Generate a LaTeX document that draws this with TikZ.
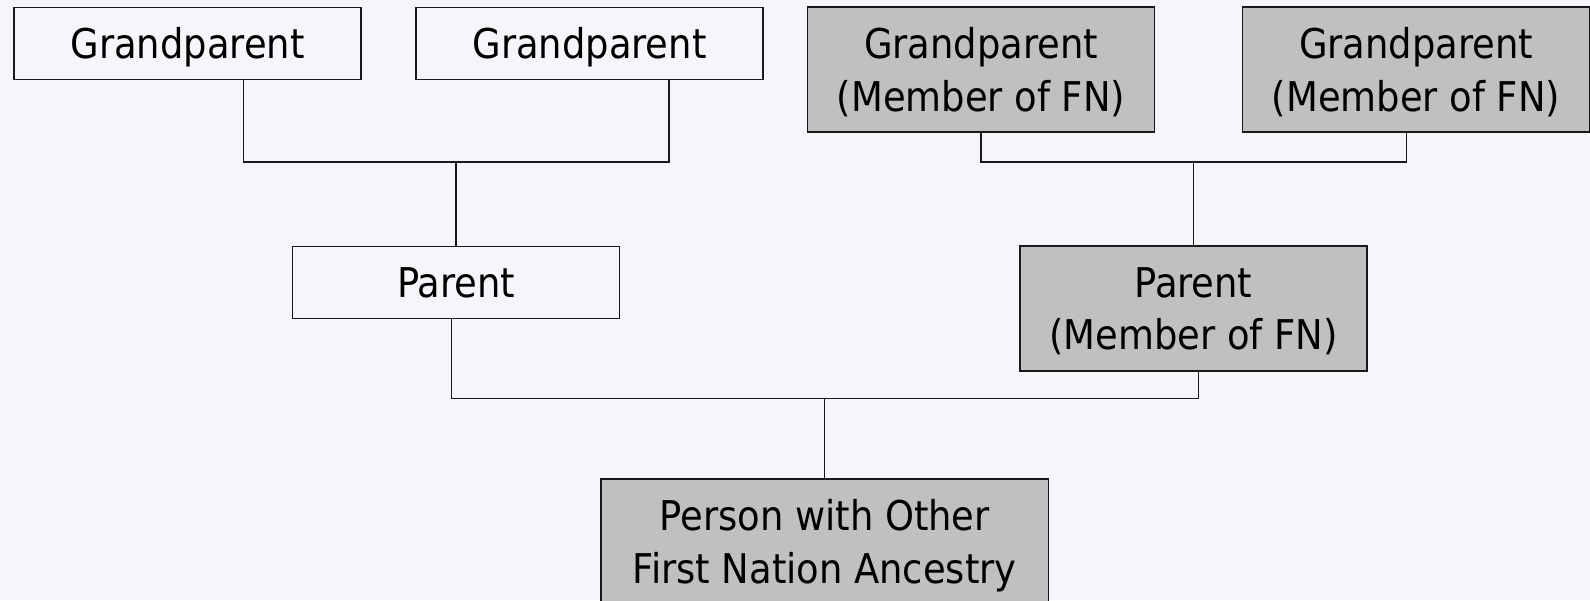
\documentclass[tikz,border=0pt]{standalone}
\usepackage{fontspec}
\setmainfont{DejaVu Sans Condensed}
\usepackage{tikz}
\usetikzlibrary{positioning}
\definecolor{pagebg}{RGB}{245,246,250}
\definecolor{fngray}{RGB}{192,192,192}
\tikzset{fam node/.style={rectangle,draw=black!90,line width=0.7pt,minimum width=173.5pt,minimum height=36pt,inner sep=0pt,align=center,font=\fontsize{20.5}{26.35}\selectfont},
one line/.style={text height=20pt,text depth=5pt},
fn node/.style={fam node,fill=fngray,minimum height=62.5pt,text depth=-0.3pt},
link/.style={draw=black!90,line width=0.6pt},}

\begin{document}
\begin{tikzpicture}[x=0.5pt,y=-0.5pt]
   \fill[pagebg] (0,0) rectangle (1590,600);
   \useasboundingbox (0,0) rectangle (1590,600);
   \node[fam node, one line] (gp1) at (187.6,43.2) {Grandparent};
   \node[fam node, one line] (gp2) at (589.5,43.2) {Grandparent};
   \node[fn node] (gp3) at (981,69.3) {Grandparent\\(Member of FN)};
   \node[fn node] (gp4) at (1416,69.5) {Grandparent\\(Member of FN)};
   \node[fam node, one line, minimum width=163.7pt] (p1) at (456,282.2) {Parent};
   \node[fn node] (p2) at (1193.5,308.5) {Parent\\(Member of FN)};
   \node[fn node, minimum width=223.6pt] (me) at (824.7,541.5) {Person with Other\\First Nation Ancestry};
   \coordinate (jl) at (456,162);
   \coordinate (jr) at (1193.5,162);
   \coordinate (jc) at (824.7,398.7);
   \path[link]
   ([xshift=27.85pt]gp1.south) |- (jl) -| ([xshift=39.75pt]gp2.south)
   (jl) -- (p1.north)
   (gp3.south) |- (jr) -| ([xshift=-4.85pt]gp4.south)
   (jr) -- (p2.north)
   ([xshift=-2.15pt]p1.south) |- (jc) -| ([xshift=2.4pt]p2.south)
   (jc) -- (me.north);
\end{tikzpicture}
\end{document}
